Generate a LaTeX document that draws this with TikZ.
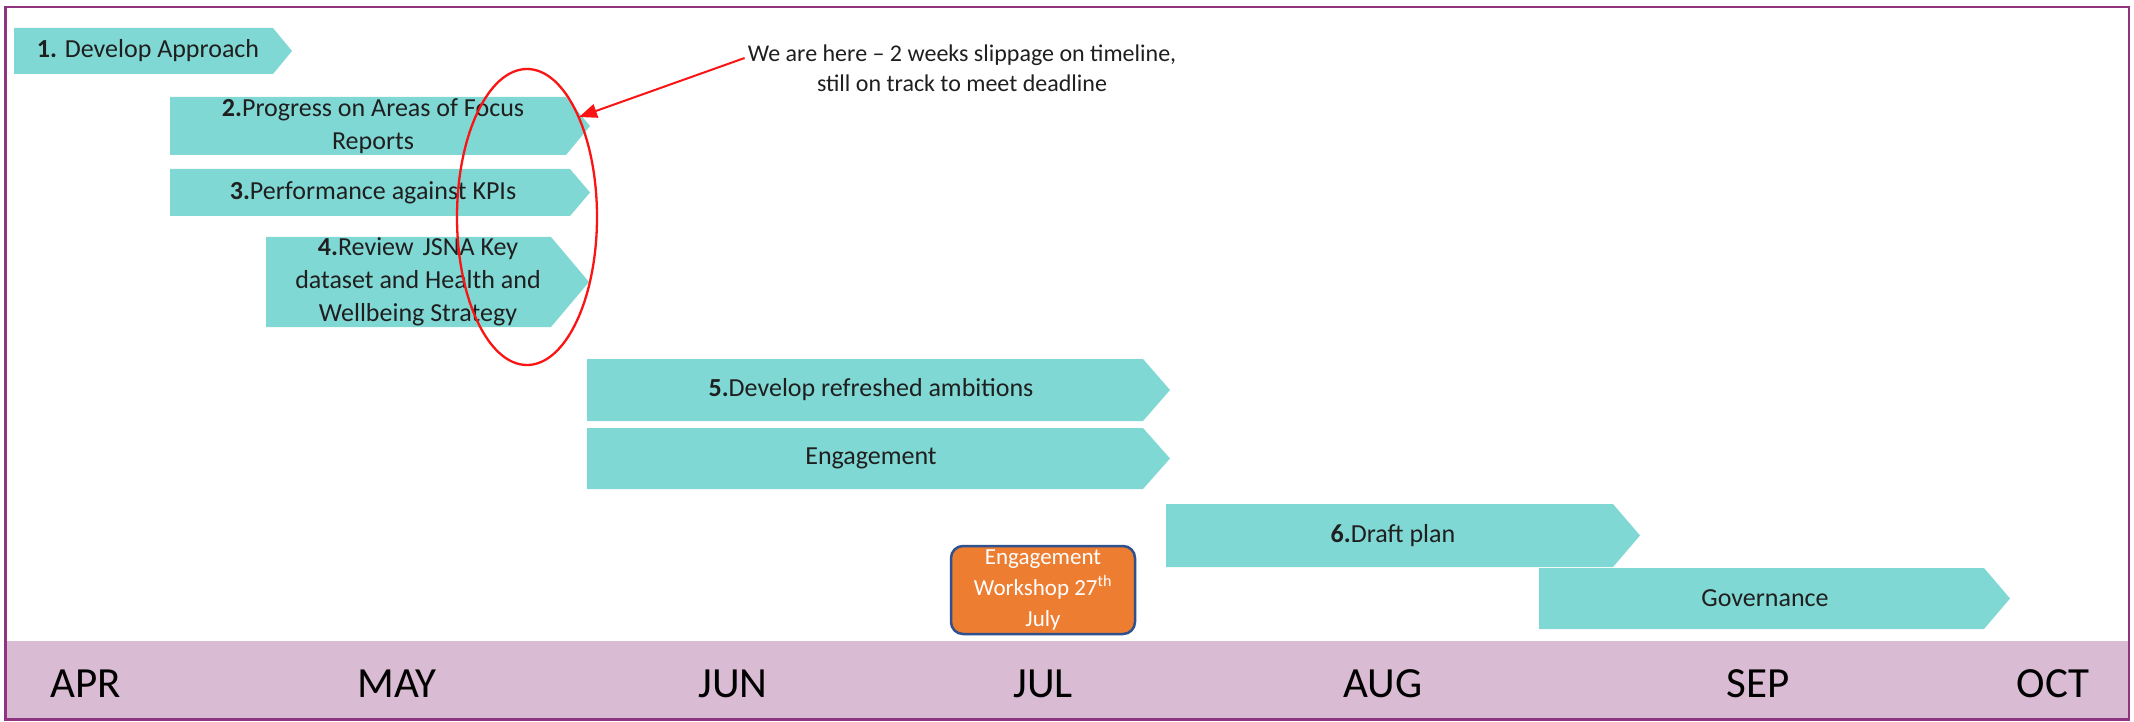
\documentclass[tikz,border=0pt]{standalone}
\usepackage{fontspec}
\setmainfont{Carlito}
\usetikzlibrary{shapes.geometric,arrows.meta}
\definecolor{barteal}{RGB}{128,216,212}
\definecolor{bandpink}{RGB}{217,187,212}
\definecolor{framepurple}{RGB}{142,52,128}
\definecolor{wsorange}{RGB}{237,125,49}
\definecolor{wsblue}{RGB}{47,82,143}
\definecolor{markred}{RGB}{250,20,20}
\begin{document}
\begin{tikzpicture}[x=1pt,y=-1pt,
  bar/.style={fill=barteal},
  bartext/.style={font=\fontsize{26}{33}\selectfont, align=center, text=black!88, inner sep=0pt},
  month/.style={font=\fontsize{43}{43}\selectfont, text=black, inner sep=0pt},
  anntext/.style={font=\fontsize{24}{30}\selectfont, align=center, text=black!88, inner sep=0pt},
  wsbox/.style={draw=wsblue, line width=2.5pt, fill=wsorange, rounded corners=12pt,
    minimum width=184pt, minimum height=88pt, inner sep=0pt, text=white, align=center,
    font=\fontsize{23}{31}\selectfont},
  marker/.style={draw=markred, line width=2.3pt}
]
\useasboundingbox (0,0) rectangle (2134,722);
\fill[white] (0,0) rectangle (2134,722);
% month band
\fill[bandpink] (6,641) rectangle (2128,718);
% frame
\draw[framepurple, line width=2.2pt] (5.5,7) rectangle (2129,719.5);

% task bars
\fill[bar] (14,28) -- (273,28) -- (292,51) -- (273,74) -- (14,74) -- cycle;
\node[bartext] (t1) at (148,51) {\textbf{1.} Develop Approach};

\fill[bar] (170,97) -- (566,97) -- (590,126) -- (566,155) -- (170,155) -- cycle;
\node[bartext] (t2) at (373,126) {\textbf{2.}Progress on Areas of Focus\\Reports};

\fill[bar] (170,169) -- (570,169) -- (590,192.5) -- (570,216) -- (170,216) -- cycle;
\node[bartext] (t3) at (373,192.5) {\textbf{3.}Performance against KPIs};

\fill[bar] (266,237) -- (551,237) -- (589,282) -- (551,327) -- (266,327) -- cycle;
\node[bartext] (t4) at (418,282) {\textbf{4.}Review\hspace{0.12em} JSNA Key\\dataset and Health and\\Wellbeing Strategy};

\fill[bar] (587,359) -- (1143,359) -- (1170,390) -- (1143,421) -- (587,421) -- cycle;
\node[bartext] (t5) at (871,390) {\textbf{5.}Develop refreshed ambitions};

\fill[bar] (587,428) -- (1143,428) -- (1170,458.5) -- (1143,489) -- (587,489) -- cycle;
\node[bartext] (eng) at (871,458.5) {Engagement};

\fill[bar] (1166,504) -- (1613,504) -- (1640,535.5) -- (1613,567) -- (1166,567) -- cycle;
\node[bartext] (t6) at (1393,535.5) {\textbf{6.}Draft plan};

\fill[bar] (1539,568) -- (1984,568) -- (2010,598.5) -- (1984,629) -- (1539,629) -- cycle;
\node[bartext] (gov) at (1765,598.5) {Governance};

% workshop
\node[wsbox] (ws) at (1043,590) {Engagement\\Workshop 27\textsuperscript{th}\\July};

% months
\node[month] (apr) at (86,684) {APR};
\node[month] (may) at (397,684) {MAY};
\node[month] (jun) at (733,684) {JUN};
\node[month] (jul) at (1043,684) {JUL};
\node[month] (aug) at (1383,684) {AUG};
\node[month] (sep) at (1758,684) {SEP};
\node[month] (oct) at (2053,684) {OCT};

% annotation
\node[ellipse, marker, minimum width=140pt, minimum height=296pt, inner sep=0pt] (ring) at (527,217) {};
\node[anntext] (ann) at (962,68) {We are here -- 2 weeks slippage on timeline,\\still on track to meet deadline};
\coordinate (slip) at (579,117);
\draw[markred, line width=2pt, -{Triangle[length=18pt,width=14pt]}] ([xshift=-3pt,yshift=10pt]ann.west) -- (slip);
\end{tikzpicture}
\end{document}
